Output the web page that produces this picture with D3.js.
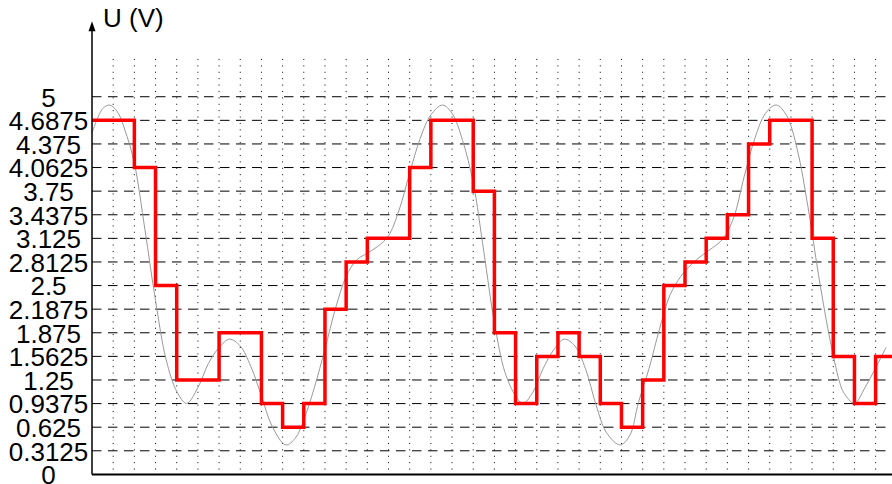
<!DOCTYPE html>
<html><head><meta charset="utf-8">
<script src="https://cdn.jsdelivr.net/npm/d3@7"></script>
<style>html,body{margin:0;padding:0;background:#fff;overflow:hidden}svg{display:block}</style>
</head><body>
<svg id="chart" width="892" height="484"></svg>
<script>
// ---- data ----
const yTicks = [0, 0.3125, 0.625, 0.9375, 1.25, 1.5625, 1.875, 2.1875, 2.5, 2.8125, 3.125, 3.4375, 3.75, 4.0625, 4.375, 4.6875, 5];
const yTickLabels = ["0","0.3125","0.625","0.9375","1.25","1.5625","1.875","2.1875","2.5","2.8125","3.125","3.4375","3.75","4.0625","4.375","4.6875","5"];
const timeTicks = [1,2,3,4,5,6,7,8,9,10,11,12,13,14,15,16,17,18,19,20,21,22,23,24,25,26,27,28,29,30,31,32,33,34,35,36,37];
// sampled (quantised) voltage, one value per sample interval
const stepValues = [4.6875,4.6875,4.0625,2.5,1.25,1.25,1.875,1.875,0.9375,0.625,0.9375,2.1875,2.8125,3.125,3.125,4.0625,4.6875,4.6875,3.75,1.875,0.9375,1.5625,1.875,1.5625,0.9375,0.625,1.25,2.5,2.8125,3.125,3.4375,4.375,4.6875,4.6875,3.125,1.5625,0.9375,1.5625];
// analogue signal (time in sample units, voltage)
const signalT = [0,0.5,0.83,1.2,1.6,2,2.5,3,3.5,4,4.47,5,5.5,6,6.5,7,7.5,8,8.5,9.15,9.6,10,10.5,11,11.5,12,12.5,13,13.5,14,14.5,15,15.5,16,16.55,17,17.5,18,18.5,19,19.5,20,20.35,20.8,21.3,21.8,22.3,22.8,23.3,23.8,24.3,24.94,25.4,25.8,26.3,26.8,27.3,27.8,28.3,28.8,29.3,29.8,30.3,30.8,31.3,31.8,32.31,32.8,33.3,33.8,34.3,34.8,35.3,35.5,36,36.5,37,37.49];
const signalV = [4.52,4.84,4.89,4.80,4.52,4.12,3.24,2.30,1.52,1.10,0.94,1.15,1.47,1.68,1.79,1.70,1.43,1.04,0.64,0.39,0.48,0.72,1.15,1.66,2.20,2.62,2.84,2.93,3.02,3.16,3.50,3.99,4.45,4.76,4.89,4.78,4.42,3.86,2.95,2.01,1.35,1.04,0.94,1.08,1.40,1.65,1.79,1.70,1.40,0.92,0.55,0.39,0.52,0.95,1.40,1.93,2.38,2.62,2.78,2.90,3.00,3.12,3.40,3.95,4.45,4.78,4.89,4.75,4.30,3.55,2.65,1.85,1.22,1.08,0.94,1.15,1.41,1.68];

// ---- layout ----
const W = 892, H = 484;
const x = d3.scaleLinear().domain([0, 38]).range([92, 896.8]);
const y = d3.scaleLinear().domain([0, 6]).range([474.4, 21.2]);
const svg = d3.select("#chart");
const font = "'Liberation Sans', Arial, Helvetica, sans-serif";

// vertical dotted grid
svg.append("g").selectAll("line").data(timeTicks).join("line")
  .attr("x1", d => x(d)).attr("x2", d => x(d))
  .attr("y1", y(5.5)).attr("y2", y(0))
  .attr("stroke", "#000").attr("stroke-width", 1)
  .attr("stroke-dasharray", "1,5.4");

// horizontal dashed grid
svg.append("g").selectAll("line").data(yTicks.filter(d => d > 0)).join("line")
  .attr("x1", x(0)).attr("x2", W)
  .attr("y1", d => y(d)).attr("y2", d => y(d))
  .attr("stroke", "#000").attr("stroke-width", 1)
  .attr("stroke-dasharray", "9.5,6.5");

// analogue signal
const sig = signalT.map((t, i) => [t, signalV[i]]);
svg.append("path").datum(sig)
  .attr("fill", "none").attr("stroke", "#999").attr("stroke-width", 1)
  .attr("d", d3.line().x(d => x(d[0])).y(d => y(d[1])).curve(d3.curveCatmullRom.alpha(0.5)));

// sampled step signal
const steps = stepValues.map((v, i) => [i, v]);
steps.push([38, stepValues[stepValues.length - 1]]);
svg.append("path").datum(steps)
  .attr("fill", "none").attr("stroke", "#ff0000").attr("stroke-width", 3.5)
  .attr("stroke-linejoin", "miter")
  .attr("d", d3.line().x(d => x(d[0])).y(d => y(d[1])).curve(d3.curveStepAfter));

// axes
svg.append("line").attr("x1", x(0)).attr("x2", W).attr("y1", y(0)).attr("y2", y(0))
  .attr("stroke", "#000").attr("stroke-width", 2);
svg.append("line").attr("x1", x(0)).attr("x2", x(0)).attr("y1", y(0)).attr("y2", y(6) + 6)
  .attr("stroke", "#000").attr("stroke-width", 1.5);
svg.append("path")
  .attr("d", `M${x(0)},${y(6)} L${x(0) - 3.5},${y(6) + 10} L${x(0) + 3.5},${y(6) + 10} Z`)
  .attr("fill", "#000");

const yAxis = d3.axisLeft(y).tickValues(yTicks)
  .tickFormat((d, i) => yTickLabels[i]).tickSize(0).tickPadding(0);
const ga = svg.append("g").attr("transform", `translate(${x(0)},0)`).call(yAxis);
ga.select(".domain").remove();
ga.selectAll("text")
  .attr("x", -43.5).attr("dy", null).attr("y", 9.3)
  .attr("text-anchor", "middle")
  .attr("fill", "#000")
  .style("font-family", font).style("font-size", "26px");

svg.append("text").attr("x", 103).attr("y", 27)
  .style("font-family", font).style("font-size", "26px").attr("fill", "#000")
  .text("U (V)");
</script>
</body></html>
